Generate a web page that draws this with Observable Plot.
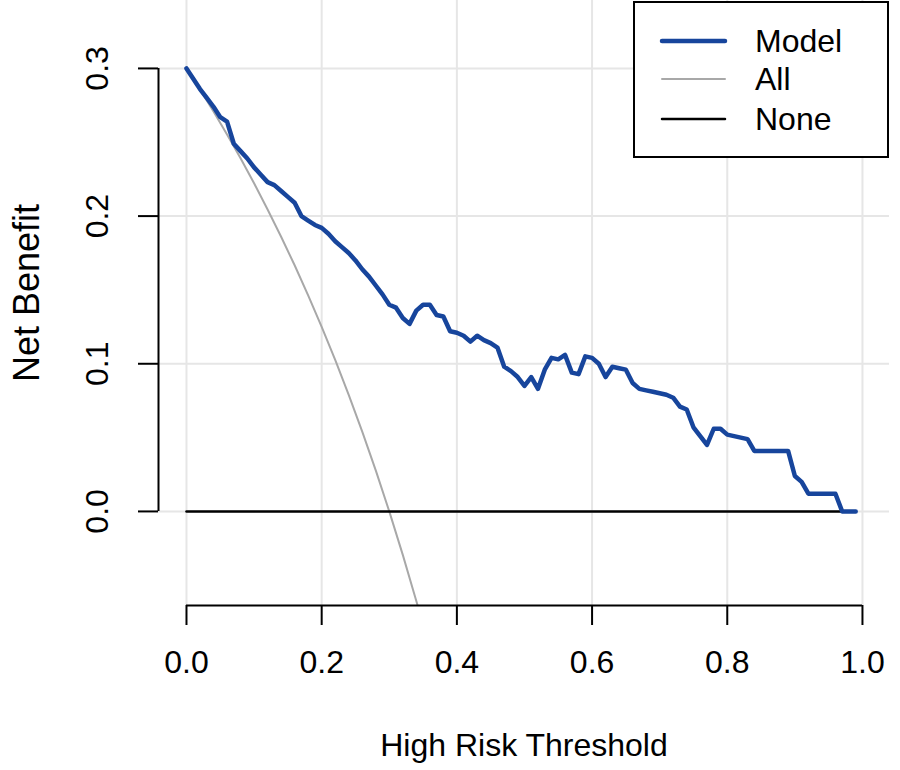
<!DOCTYPE html>
<html>
<head>
<meta charset="utf-8">
<script src="https://cdn.jsdelivr.net/npm/d3@7"></script>
<script src="https://cdn.jsdelivr.net/npm/@observablehq/plot@0.6"></script>
<style>
  body { margin: 0; background: #fff; font-family: "Liberation Sans", Arial, sans-serif; }
  #wrap { position: relative; width: 900px; height: 770px; }
  #legend { position: absolute; left: 633px; top: 1px; }
</style>
</head>
<body>
<div id="wrap"><svg id="legend" width="256" height="158"></svg></div>
<script>
// ---- data ----
const thresholds = [
  0.00,0.01,0.02,0.03,0.04,0.05,0.06,0.07,0.08,0.09,
  0.10,0.11,0.12,0.13,0.14,0.15,0.16,0.17,0.18,0.19,
  0.20,0.21,0.22,0.23,0.24,0.25,0.26,0.27,0.28,0.29,
  0.30,0.31,0.32,0.33,0.34,0.35,0.36,0.37,0.38,0.39,
  0.40,0.41,0.42,0.43,0.44,0.45,0.46,0.47,0.48,0.49,
  0.50,0.51,0.52,0.53,0.54,0.55,0.56,0.57,0.58,0.59,
  0.60,0.61,0.62,0.63,0.64,0.65,0.66,0.67,0.68,0.69,
  0.70,0.71,0.72,0.73,0.74,0.75,0.76,0.77,0.78,0.79,
  0.80,0.81,0.82,0.83,0.84,0.85,0.86,0.87,0.88,0.89,
  0.90,0.91,0.92,0.93,0.94,0.95,0.96,0.97,0.98,0.99
];
const modelNB = [
  0.300,0.293,0.286,0.280,0.274,0.267,0.264,0.249,0.244,0.239,
  0.233,0.228,0.223,0.221,0.217,0.213,0.209,0.200,0.197,0.194,
  0.192,0.188,0.183,0.179,0.175,0.170,0.164,0.159,0.153,0.147,
  0.140,0.138,0.131,0.127,0.136,0.140,0.140,0.133,0.132,0.122,
  0.121,0.119,0.115,0.119,0.116,0.114,0.111,0.098,0.095,0.091,
  0.085,0.091,0.083,0.096,0.104,0.103,0.106,0.094,0.093,0.105,
  0.104,0.100,0.091,0.098,0.097,0.096,0.087,0.083,0.082,0.081,
  0.080,0.079,0.077,0.071,0.069,0.057,0.051,0.045,0.056,0.056,
  0.052,0.051,0.050,0.049,0.041,0.041,0.041,0.041,0.041,0.041,
  0.024,0.020,0.012,0.012,0.012,0.012,0.012,0.000,0.000,0.000
];
const allThresholds = [0.00,0.02,0.04,0.06,0.08,0.10,0.12,0.14,0.16,0.18,0.20,0.22,0.24,0.26,0.28,0.30,0.32,0.34,0.35];
const allNB = [0.3000,0.2857,0.2708,0.2553,0.2391,0.2222,0.2045,0.1860,0.1667,0.1463,0.1250,0.1026,0.0789,0.0541,0.0278,0.0000,-0.0294,-0.0606,-0.0769];
const noneThresholds = [0.00, 0.99];
const noneNB = [0, 0];
const xTicks = [0.0, 0.2, 0.4, 0.6, 0.8, 1.0];
const yTicks = [0.0, 0.1, 0.2, 0.3];
const seriesNames = ["Model", "All", "None"];
const xLabel = "High Risk Threshold";
const yLabel = "Net Benefit";

// ---- tables ----
const modelData = thresholds.map((t, i) => ({t, nb: modelNB[i]}));
const allData = allThresholds.map((t, i) => ({t, nb: allNB[i]}));
const noneData = noneThresholds.map((t, i) => ({t, nb: noneNB[i]}));

const xDomain = [-0.0414, 1.04];
const yDomain = [-0.0637, 0.346];
const fmt = d3.format(".1f");
const FONT = 32;

const chart = Plot.plot({
  width: 900,
  height: 770,
  marginLeft: 158,
  marginRight: 11,
  marginTop: 0,
  marginBottom: 165,
  style: { fontFamily: "'Liberation Sans', Arial, sans-serif", background: "#fff", overflow: "visible" },
  x: { domain: xDomain, axis: null },
  y: { domain: yDomain, axis: null },
  marks: [
    Plot.gridX(xTicks, { stroke: "#e6e6e6", strokeOpacity: 1, strokeWidth: 2 }),
    Plot.gridY(yTicks, { stroke: "#e6e6e6", strokeOpacity: 1, strokeWidth: 2 }),
    Plot.line(allData, { x: "t", y: "nb", stroke: "#a8a8a8", strokeWidth: 2, clip: true }),
    Plot.line(noneData, { x: "t", y: "nb", stroke: "#000", strokeWidth: 2.5 }),
    Plot.line(modelData, { x: "t", y: "nb", stroke: "#17459c", strokeWidth: 4.5, strokeLinejoin: "round", strokeLinecap: "round" }),
    // axis lines (R style)
    Plot.ruleY([yDomain[0]], { x1: xTicks[0], x2: xTicks[xTicks.length - 1], stroke: "#000", strokeWidth: 2 }),
    Plot.ruleX([xDomain[0]], { y1: yTicks[0], y2: yTicks[yTicks.length - 1], stroke: "#000", strokeWidth: 2 }),
    Plot.axisX(xTicks, { anchor: "bottom", tickSize: 20, strokeWidth: 2, stroke: "#000", fill: "none", label: null }),
    Plot.axisY(yTicks, { anchor: "left", tickSize: 20, strokeWidth: 2, stroke: "#000", fill: "none", label: null }),
    Plot.text(xTicks, { x: d => d, text: d => fmt(d), frameAnchor: "bottom", lineAnchor: "middle", dy: 57, fontSize: FONT, fill: "#000" }),
    Plot.text(yTicks, { y: d => d, text: d => fmt(d), frameAnchor: "left", textAnchor: "middle", lineAnchor: "middle", dx: -61, rotate: -90, fontSize: FONT, fill: "#000" }),
    Plot.text([xLabel], { text: d => d, frameAnchor: "bottom", lineAnchor: "middle", dy: 140, fontSize: FONT, fill: "#000" }),
    Plot.text([yLabel], { text: d => d, frameAnchor: "left", textAnchor: "middle", lineAnchor: "middle", dx: -131, dy: -10, rotate: -90, fontSize: 36, fill: "#000" })
  ]
});
document.getElementById("wrap").prepend(chart);

// ---- legend ----
const leg = d3.select("#legend");
leg.append("rect").attr("x", 1).attr("y", 1).attr("width", 254).attr("height", 155)
  .attr("fill", "#fff").attr("stroke", "#000").attr("stroke-width", 2);
const legStyles = [
  { stroke: "#17459c", w: 4.5 },
  { stroke: "#a8a8a8", w: 2 },
  { stroke: "#000", w: 2.5 }
];
const rowY = [40, 78, 118];
seriesNames.forEach((name, i) => {
  leg.append("line").attr("x1", 29).attr("x2", 92).attr("y1", rowY[i]).attr("y2", rowY[i])
    .attr("stroke", legStyles[i].stroke).attr("stroke-width", legStyles[i].w).attr("stroke-linecap", "round");
  leg.append("text").attr("x", 122).attr("y", rowY[i]).attr("dy", "0.35em")
    .attr("font-size", FONT).attr("font-family", "'Liberation Sans', Arial, sans-serif").text(name);
});
const svg = document.querySelector("#wrap > svg:not(#legend)");
if (svg) { svg.style.position = "absolute"; svg.style.left = "0"; svg.style.top = "0"; }
</script>
</body>
</html>
